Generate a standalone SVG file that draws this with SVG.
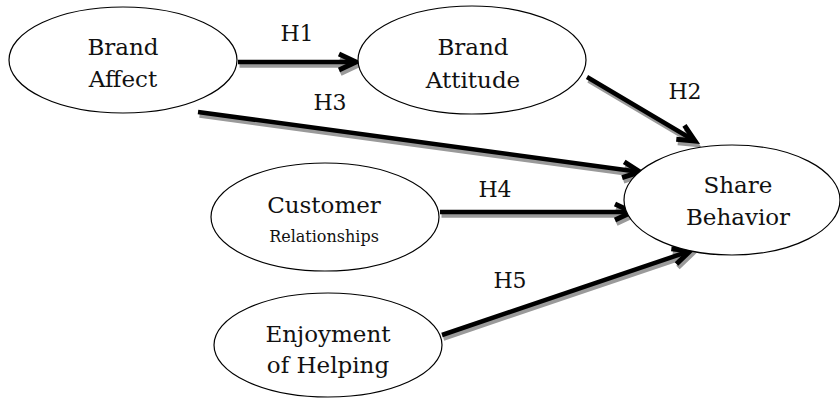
<svg xmlns="http://www.w3.org/2000/svg" width="840" height="398" viewBox="0 0 840 398">
<style>
.node ellipse{fill:#fff;stroke:#000;stroke-width:1.2}
.node text{font-family:"DejaVu Serif","Liberation Serif",serif;font-size:23px;fill:#111;text-anchor:middle}
.node text.small{font-size:16px}
.lbl{font-family:"DejaVu Serif","Liberation Serif",serif;font-size:22px;fill:#111;text-anchor:middle}
.shadow line{stroke:#9a9a9a;stroke-width:4.5;marker-end:url(#headG)}
.main line{stroke:#000;stroke-width:4.5;marker-end:url(#headB)}
</style>
<defs>
<marker id="headB" markerUnits="userSpaceOnUse" viewBox="-24 -14 30 28" refX="0" refY="0" markerWidth="30" markerHeight="28" orient="auto">
<path d="M-17,-8 L0,0 L-17,8" fill="none" stroke="#000" stroke-width="5" stroke-linejoin="miter"/>
</marker>
<marker id="headG" markerUnits="userSpaceOnUse" viewBox="-24 -14 30 28" refX="0" refY="0" markerWidth="30" markerHeight="28" orient="auto">
<path d="M-17,-8 L0,0 L-17,8" fill="none" stroke="#9a9a9a" stroke-width="5" stroke-linejoin="miter"/>
</marker>
</defs>
<rect width="840" height="398" fill="#fff"/>
<g id="connectors">
<g class="shadow" transform="translate(1.5,3.5)">
<line x1="238" y1="62" x2="356" y2="62"/>
<line x1="587" y1="77" x2="695" y2="141"/>
<line x1="198" y1="112" x2="640" y2="172"/>
<line x1="440" y1="212" x2="632" y2="212"/>
<line x1="442" y1="335" x2="690" y2="251"/>
</g>
<g class="main">
<line x1="238" y1="62" x2="356" y2="62"/>
<line x1="587" y1="77" x2="695" y2="141"/>
<line x1="198" y1="112" x2="640" y2="172"/>
<line x1="440" y1="212" x2="632" y2="212"/>
<line x1="442" y1="335" x2="690" y2="251"/>
</g>
<text class="lbl" x="297" y="41">H1</text>
<text class="lbl" x="685" y="99">H2</text>
<text class="lbl" x="330" y="110">H3</text>
<text class="lbl" x="495" y="197">H4</text>
<text class="lbl" x="510" y="288">H5</text>
</g>
<g id="brand-affect" class="node">
<ellipse cx="123" cy="60" rx="114" ry="53"/>
<text x="123" y="55">Brand</text>
<text x="123" y="87">Affect</text>
</g>
<g id="brand-attitude" class="node">
<ellipse cx="472" cy="60" rx="114" ry="54"/>
<text x="473" y="55">Brand</text>
<text x="473" y="88">Attitude</text>
</g>
<g id="customer-relationships" class="node">
<ellipse cx="325" cy="217" rx="114" ry="54"/>
<text x="324" y="213">Customer</text>
<text x="324" y="242" class="small">Relationships</text>
</g>
<g id="share-behavior" class="node">
<ellipse cx="732" cy="200" rx="108" ry="55"/>
<text x="738" y="193">Share</text>
<text x="738" y="225">Behavior</text>
</g>
<g id="enjoyment-of-helping" class="node">
<ellipse cx="328" cy="345" rx="114" ry="52"/>
<text x="328" y="342">Enjoyment</text>
<text x="328" y="373">of Helping</text>
</g>
</svg>
